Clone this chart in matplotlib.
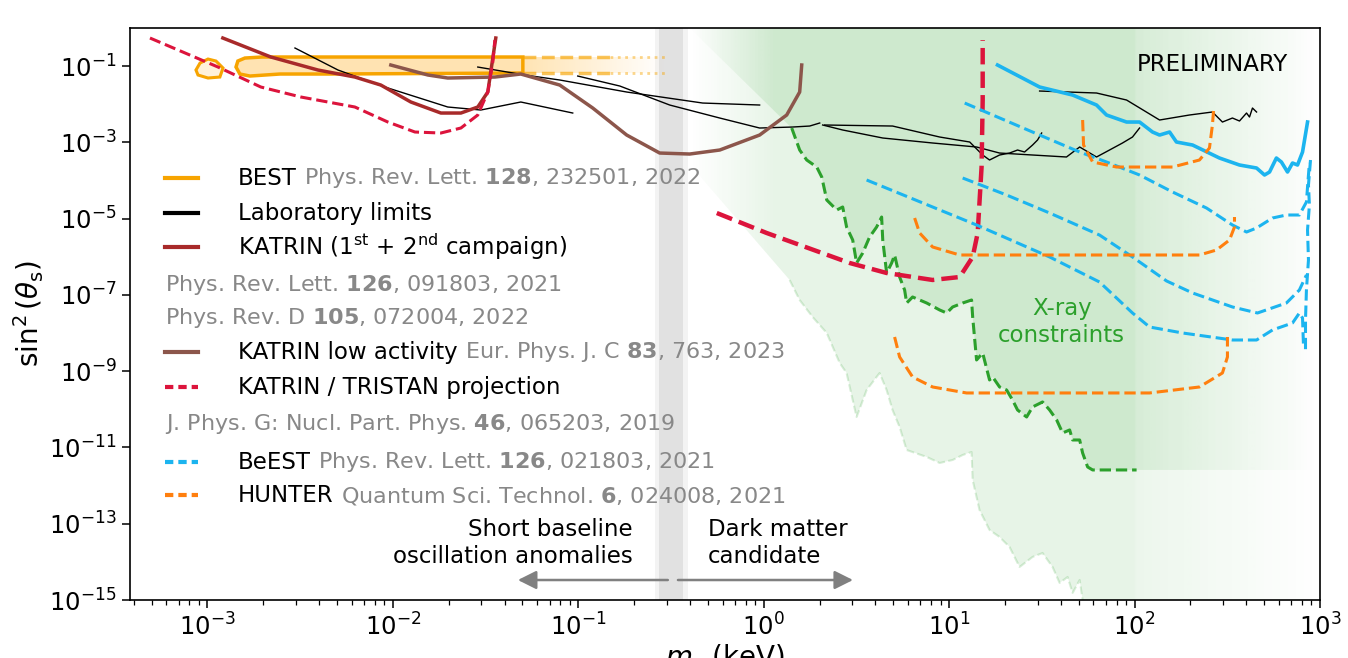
import numpy as np
import matplotlib.pyplot as plt
from matplotlib.patches import Polygon
from matplotlib.ticker import NullLocator, NullFormatter, FixedLocator
from matplotlib.colors import to_rgb

# All curves are stored as log10(m_s / keV) and log10(sin^2 theta_s)

# BEST contour (closed), small island and the extension of the band
best_lm = [-2.846, -2.836, -2.798, -2.706, -1.299, -1.299, -2.340, -2.609, -2.771, -2.825]
best_ls = [-1.023, -0.865, -0.787, -0.760, -0.760, -1.180, -1.206, -1.206, -1.259, -1.206]
best_island_lm = [-3.062, -3.040, -2.997, -2.954, -2.916, -2.933, -2.997, -3.051]
best_island_ls = [-1.101, -0.918, -0.813, -0.865, -1.049, -1.285, -1.311, -1.232]
best_band_ls = [-0.760, -1.180]
best_dash_lm = [-1.299, -0.830]
best_dot_lm = [-0.830, -0.534]

# KATRIN 1st + 2nd campaign
katrin_lm = [-2.917, -2.658, -2.404, -2.205, -2.065, -1.903, -1.741, -1.633, -1.542, -1.488, -1.461, -1.445]
katrin_ls = [-0.262, -0.760, -1.101, -1.285, -1.495, -1.940, -2.229, -2.229, -2.071, -1.678, -0.787, -0.262]

# KATRIN low activity
lowact_lm = [-2.011, -1.811, -1.704, -1.450, -1.310, -1.100, -0.922, -0.739, -0.561, -0.399, -0.237, -0.022,
             0.124, 0.194, 0.205]
lowact_ls = [-0.970, -1.232, -1.311, -1.285, -1.206, -1.495, -2.098, -2.806, -3.278, -3.304, -3.199, -2.806,
             -2.281, -1.678, -0.970]

# KATRIN / TRISTAN projections
tristan1_lm = [-3.310, -2.943, -2.712, -2.496, -2.205, -2.027, -1.881, -1.741, -1.633, -1.542, -1.488, -1.461, -1.450]
tristan1_ls = [-0.262, -1.023, -1.547, -1.809, -2.071, -2.465, -2.727, -2.753, -2.622, -2.281, -1.678, -0.891, -0.315]
tristan2_lm = [-0.253, 0.016, 0.464, 0.663, 0.911, 1.057, 1.127, 1.154, 1.175, 1.181, 1.181]
tristan2_ls = [-4.851, -5.375, -6.162, -6.424, -6.607, -6.529, -6.004, -5.375, -3.645, -1.888, -0.315]

# Laboratory limits (several experiments)
lab_lm = [
    [-2.528, -2.296, -2.043, -1.704, -1.526, -1.310, -1.030],
    [-1.542, -1.288, -1.100, -0.739, -0.329, -0.022],
    [-1.003, -0.776, -0.507, -0.237, -0.022, 0.156, 0.248, 0.302],
    [0.329, 0.695, 0.949, 1.111, 1.181, 1.218, 1.272, 1.326, 1.369, 1.407, 1.450, 1.477, 1.499],
    [0.318, 0.426, 0.642, 0.911, 1.148, 1.272, 1.450, 1.633, 1.704, 1.795, 1.865, 1.935, 1.989, 2.027],
    [1.488, 1.795, 1.957, 2.135, 2.296, 2.420, 2.474, 2.528, 2.566, 2.604, 2.620, 2.636, 2.658],
]
lab_ls = [
    [-0.524, -1.101, -1.547, -2.071, -2.150, -1.940, -2.229],
    [-1.023, -1.232, -1.363, -1.678, -1.967, -2.019],
    [-1.259, -1.521, -2.019, -2.360, -2.622, -2.596, -2.570, -2.491],
    [-2.543, -2.570, -2.858, -2.989, -3.330, -3.461, -3.330, -3.278, -3.199, -3.251, -3.068, -2.936, -2.753],
    [-2.543, -2.674, -2.884, -3.015, -3.120, -3.278, -3.330, -3.382, -3.120, -3.382, -3.199, -3.015, -2.858, -2.622],
    [-1.652, -1.704, -1.888, -2.412, -2.281, -2.202, -2.465, -2.360, -2.438, -2.229, -2.334, -2.098, -2.202],
]

# X-ray constraints (upper edge of the excluded region) and the faint lower band
xray_lm = [0.151, 0.194, 0.232, 0.286, 0.313, 0.340, 0.394, 0.426, 0.447, 0.480, 0.501, 0.534, 0.571, 0.609,
           0.636, 0.642, 0.663, 0.690, 0.706, 0.733, 0.760, 0.771, 0.803, 0.841, 0.879, 0.949, 0.987, 1.019,
           1.073, 1.121, 1.127, 1.148, 1.181, 1.218, 1.235, 1.272, 1.310, 1.342, 1.369, 1.418, 1.450, 1.504,
           1.542, 1.580, 1.612, 1.650, 1.666, 1.704, 1.720, 1.747, 1.774, 2.011]
xray_ls = [-2.622, -3.199, -3.461, -3.645, -3.907, -4.510, -4.772, -4.693, -5.218, -5.559, -6.162, -5.900,
           -5.480, -5.218, -4.956, -5.559, -6.424, -6.162, -5.952, -6.529, -6.870, -7.211, -7.053, -7.132,
           -7.211, -7.394, -7.473, -7.315, -7.211, -7.132, -7.578, -8.705, -8.522, -9.229, -9.151, -9.413,
           -9.492, -9.754, -10.016, -10.200, -9.937, -9.806, -10.016, -10.278, -10.619, -10.540, -10.803,
           -10.803, -11.144, -11.511, -11.589, -11.589]
xray_faint_lm = [0.140, 0.194, 0.264, 0.340, 0.410, 0.447, 0.501, 0.555, 0.625, 0.663, 0.695, 0.733, 0.771,
                 0.879, 0.949, 1.019, 1.073, 1.121, 1.127, 1.164, 1.218, 1.272, 1.326, 1.380, 1.450, 1.504,
                 1.558, 1.596, 1.639, 1.666, 1.704, 1.720]
xray_faint_ls = [-6.607, -7.132, -7.578, -7.997, -8.784, -9.046, -10.200, -9.492, -9.046, -9.492, -10.016,
                 -10.462, -11.065, -11.248, -11.406, -11.327, -11.196, -11.117, -11.851, -12.638, -13.162,
                 -13.346, -13.608, -14.133, -13.870, -13.766, -14.133, -14.552, -14.395, -14.814, -14.473, -15.0]
# straight upper-left edges of the shaded X-ray regions
xray_edge_lm = [-0.399, 0.151]
xray_edge_ls = [0.0, -2.622]
faint_edge_lm = [-1.030, -0.415]
faint_edge_ls = [0.0, -3.487]

# BeEST: current limit (solid) and projections (dashed)
beest_lm = [1.261, 1.488, 1.666, 1.795, 1.849, 1.957, 2.027, 2.097, 2.135, 2.189, 2.226, 2.313, 2.458, 2.566,
            2.658, 2.701, 2.728, 2.765, 2.792, 2.825, 2.852, 2.879, 2.906, 2.933]
beest_ls = [-0.970, -1.547, -1.757, -2.019, -2.281, -2.465, -2.465, -2.727, -2.806, -2.727, -2.989, -3.068,
            -3.409, -3.592, -3.671, -3.854, -3.776, -3.409, -3.513, -3.776, -3.540, -3.592, -3.251, -2.465]
beest_proj_lm = [
    [1.084, 1.488, 1.704, 1.849, 2.027, 2.205, 2.388, 2.528, 2.604, 2.658, 2.744, 2.819, 2.889, 2.927, 2.933, 2.943],
    [1.073, 1.310, 1.542, 1.811, 1.989, 2.173, 2.313, 2.528, 2.663, 2.819, 2.889, 2.927],
    [0.555, 1.148, 1.542, 1.811, 1.989, 2.081, 2.259, 2.528, 2.658, 2.744, 2.852, 2.889, 2.906, 2.911],
    [2.949, 2.938, 2.943, 2.933, 2.938, 2.927, 2.922, 2.922],
]
beest_proj_ls = [
    [-1.967, -2.806, -3.251, -3.513, -3.854, -4.300, -4.720, -5.165, -5.349, -5.244, -4.982, -4.903, -4.903,
     -4.562, -4.169, -3.540],
    [-3.933, -4.379, -4.851, -5.428, -6.004, -6.634, -6.948, -7.315, -7.473, -7.211, -6.870, -6.476],
    [-3.985, -5.165, -6.004, -6.660, -7.473, -7.840, -7.997, -8.181, -8.181, -7.918, -7.735, -7.473, -7.604, -8.312],
    [-3.461, -4.117, -4.641, -5.296, -6.083, -6.870, -7.656, -8.443],
]

# HUNTER projections
hunter_lm = [
    [1.720, 1.725, 1.774, 1.903, 2.205, 2.350, 2.404, 2.420, 2.426],
    [0.814, 0.841, 0.911, 1.057, 2.081, 2.350, 2.442, 2.512, 2.539, 2.539],
    [0.706, 0.733, 0.803, 0.911, 1.094, 2.081, 2.350, 2.474, 2.501, 2.501],
]
hunter_ls = [
    [-2.412, -3.068, -3.513, -3.645, -3.645, -3.461, -3.146, -2.543, -2.176],
    [-4.982, -5.375, -5.742, -5.952, -5.952, -5.952, -5.821, -5.559, -5.218, -4.956],
    [-8.102, -8.626, -9.151, -9.413, -9.570, -9.570, -9.413, -9.046, -8.626, -8.102],
]

# boundary between sterile-neutrino motivations (keV)
split_band = [0.258, 0.390]

# axis ticks
x_decades = [-3, -2, -1, 0, 1, 2, 3]
y_decades = [-15, -13, -11, -9, -7, -5, -3, -1]

C_BEST = '#f7a400'
C_KATRIN = '#a82a2a'
C_LOWACT = '#8c564b'
C_TRISTAN = '#dc143c'
C_BEEST = '#1cb4ef'
C_HUNTER = '#ff7f0e'
C_XRAY = '#2ca02c'
C_CITE = '#888888'


def p(a):
    return 10.0 ** np.asarray(a, dtype=float)


def faded_patch(ax, lm, ls, stops, alphas, color, zorder):
    """Fill a polygon with a colour whose opacity varies along the x axis."""
    poly = Polygon(np.column_stack([p(lm), p(ls)]), closed=True,
                   transform=ax.transData, fc='none', ec='none')
    ax.add_patch(poly)
    fx = np.linspace(0, 1, 1200)
    img = np.zeros((1, fx.size, 4))
    img[..., :3] = to_rgb(color)
    img[0, :, 3] = np.interp(fx, stops, alphas)
    im = ax.imshow(img, extent=(0, 1, 0, 1), transform=ax.transAxes, aspect='auto',
                   interpolation='bilinear', zorder=zorder)
    im.set_clip_path(poly)


fig = plt.figure(figsize=(13.48, 6.58), dpi=100)
ax = fig.add_axes([0.0964, 0.0881, 0.8828, 0.8693])
ax.set_xscale('log')
ax.set_yscale('log')
ax.set_xlim(10 ** -3.418, 1e3)
ax.set_ylim(1e-15, 1)
ax.set_autoscale_on(False)

# shaded X-ray regions
faint_lm = [faint_edge_lm[0]] + [faint_edge_lm[1]] + xray_faint_lm + [3.0, 3.0]
faint_ls = [faint_edge_ls[0]] + [faint_edge_ls[1]] + xray_faint_ls + [-15.0, 0.0]
stops = [0, 0.47, 0.54, 0.844, 0.845, 1.0]
faded_patch(ax, faint_lm, faint_ls, stops, [0, 0, 0.11, 0.11, 0.09, 0.0], C_XRAY, 0.5)
dark_lm = [xray_edge_lm[0]] + xray_lm + [3.0, 3.0]
dark_ls = [xray_edge_ls[0]] + xray_ls + [xray_ls[-1], 0.0]
faded_patch(ax, dark_lm, dark_ls, stops, [0, 0, 0.13, 0.13, 0.11, 0.0], C_XRAY, 0.55)
ax.plot(p(xray_faint_lm), p(xray_faint_ls), ls='--', color=C_XRAY, lw=1.5, alpha=0.18, zorder=0.6)

# gray band separating the two mass regimes
ax.axvspan(split_band[0], split_band[1], color='0.5', alpha=0.09, lw=0, zorder=0.4)
ax.axvspan(split_band[0] * 1.05, split_band[1] / 1.06, color='0.5', alpha=0.15, lw=0, zorder=0.4)

# BEST
ax.fill(p(best_lm), p(best_ls), color='orange', alpha=0.3, lw=0, zorder=1)
ax.fill(p(best_lm), p(best_ls), fc='none', ec=C_BEST, lw=2.5, zorder=3)
ax.fill(p(best_island_lm), p(best_island_ls), fc='orange', alpha=0.15, lw=0, zorder=1)
ax.fill(p(best_island_lm), p(best_island_ls), fc='none', ec=C_BEST, lw=2.2, zorder=3)
faded_patch(ax, [best_dash_lm[0], best_dot_lm[1], best_dot_lm[1], best_dash_lm[0]],
            [best_band_ls[0], best_band_ls[0], best_band_ls[1], best_band_ls[1]],
            [0, 0.330, 0.45, 1], [0.3, 0.3, 0.0, 0.0], 'orange', 1)
for yv in best_band_ls:
    ax.plot(p(best_dash_lm), p([yv, yv]), color=C_BEST, lw=2.5, ls='--', alpha=0.65, zorder=3)
    ax.plot(p(best_dot_lm), p([yv, yv]), color=C_BEST, lw=2.0, ls=':', alpha=0.45, zorder=3)

# laboratory limits
for lm, ls in zip(lab_lm, lab_ls):
    ax.plot(p(lm), p(ls), color='black', lw=1.0, zorder=3)

# KATRIN
ax.plot(p(katrin_lm), p(katrin_ls), color=C_KATRIN, lw=2.5, zorder=4)
ax.plot(p(lowact_lm), p(lowact_ls), color=C_LOWACT, lw=2.5, zorder=4)
ax.plot(p(tristan1_lm), p(tristan1_ls), color=C_TRISTAN, lw=2.2, ls='--', zorder=4)
ax.plot(p(tristan2_lm), p(tristan2_ls), color=C_TRISTAN, lw=3.2, ls='--', zorder=4)

# X-ray limit line
ax.plot(p(xray_lm), p(xray_ls), color=C_XRAY, lw=2.2, ls='--', zorder=3)

# BeEST
ax.plot(p(beest_lm), p(beest_ls), color=C_BEEST, lw=2.6, zorder=4)
for lm, ls in zip(beest_proj_lm, beest_proj_ls):
    ax.plot(p(lm), p(ls), color=C_BEEST, lw=2.2, ls='--', zorder=4)

# HUNTER
for lm, ls in zip(hunter_lm, hunter_ls):
    ax.plot(p(lm), p(ls), color=C_HUNTER, lw=2.2, ls='--', zorder=4)

# annotations
ax.text(0.910, 0.937, 'PRELIMINARY', transform=ax.transAxes, ha='center', va='center', fontsize=16.5)
ax.text(0.783, 0.486, 'X-ray\nconstraints', transform=ax.transAxes, ha='center', va='center',
        multialignment='center', fontsize=16.5, color=C_XRAY)
ax.text(0.4227, 0.0997, 'Short baseline\noscillation anomalies', transform=ax.transAxes,
        ha='right', va='center', multialignment='right', fontsize=16.5)
ax.text(0.4857, 0.0997, 'Dark matter\ncandidate', transform=ax.transAxes,
        ha='left', va='center', multialignment='left', fontsize=16.5)
arrow = dict(arrowstyle='-|>', mutation_scale=28, color='0.5', lw=1.8, shrinkA=0, shrinkB=0)
ax.annotate('', xy=(0.326, 0.035), xytext=(0.452, 0.035), xycoords='axes fraction', arrowprops=arrow)
ax.annotate('', xy=(0.6076, 0.035), xytext=(0.4605, 0.035), xycoords='axes fraction', arrowprops=arrow)

# hand-built legend
legend_rows = [
    (C_BEST, '-', 'BEST', r'Phys. Rev. Lett. $\mathbf{128}$, 232501, 2022'),
    ('black', '-', 'Laboratory limits', None),
    (C_KATRIN, '-', r'KATRIN (1$^{\mathrm{st}}$ + 2$^{\mathrm{nd}}$ campaign)', None),
    (None, None, None, r'Phys. Rev. Lett. $\mathbf{126}$, 091803, 2021'),
    (None, None, None, r'Phys. Rev. D $\mathbf{105}$, 072004, 2022'),
    (C_LOWACT, '-', 'KATRIN low activity', r'Eur. Phys. J. C $\mathbf{83}$, 763, 2023'),
    (C_TRISTAN, '--', 'KATRIN / TRISTAN projection', None),
    (None, None, None, r'J. Phys. G: Nucl. Part. Phys. $\mathbf{46}$, 065203, 2019'),
    (C_BEEST, '--', 'BeEST', r'Phys. Rev. Lett. $\mathbf{126}$, 021803, 2021'),
    (C_HUNTER, '--', 'HUNTER', r'Quantum Sci. Technol. $\mathbf{6}$, 024008, 2021'),
]
row_y = [0.7378, 0.6766, 0.6171, 0.5507, 0.4930, 0.4336, 0.3724, 0.3077, 0.2413, 0.1836]
for (col, style, label, cite), y in zip(legend_rows, row_y):
    if label is None:
        ax.text(0.0294, y, cite, transform=ax.transAxes, va='center', fontsize=16, color=C_CITE, zorder=6)
        continue
    kw = dict(dashes=(2, 1.2)) if style == '--' else {}
    ax.plot([0.0294, 0.0571], [y, y], transform=ax.transAxes, color=col, lw=3, zorder=6, **kw)
    t = ax.text(0.0908, y, label, transform=ax.transAxes, va='center', fontsize=16.5, zorder=6)
    if cite:
        ax.annotate(cite, xy=(1, 0), xycoords=t, xytext=(5, 0), textcoords='offset points',
                    ha='left', va='bottom', fontsize=16, color=C_CITE, zorder=6)

# axes styling
ax.xaxis.set_major_locator(FixedLocator([10.0 ** e for e in x_decades]))
minor_x = [k * 10.0 ** e for e in range(-4, 3) for k in range(2, 10)]
ax.xaxis.set_minor_locator(FixedLocator([v for v in minor_x if 10 ** -3.418 < v < 1e3]))
ax.xaxis.set_minor_formatter(NullFormatter())
ax.yaxis.set_major_locator(FixedLocator([10.0 ** e for e in y_decades]))
ax.yaxis.set_minor_locator(NullLocator())
ax.tick_params(axis='both', which='major', labelsize=17.5, length=6, width=1.1)
ax.tick_params(axis='x', which='minor', length=3.5, width=0.9)
for s in ax.spines.values():
    s.set_linewidth(1.2)
ax.set_ylabel(r'$\sin^2(\theta_\mathrm{s})$', fontsize=20, labelpad=2)
ax.set_xlabel(r'$m_\mathrm{s}$ (keV)', fontsize=20, labelpad=1)

fig.savefig('out.png', dpi=100)
